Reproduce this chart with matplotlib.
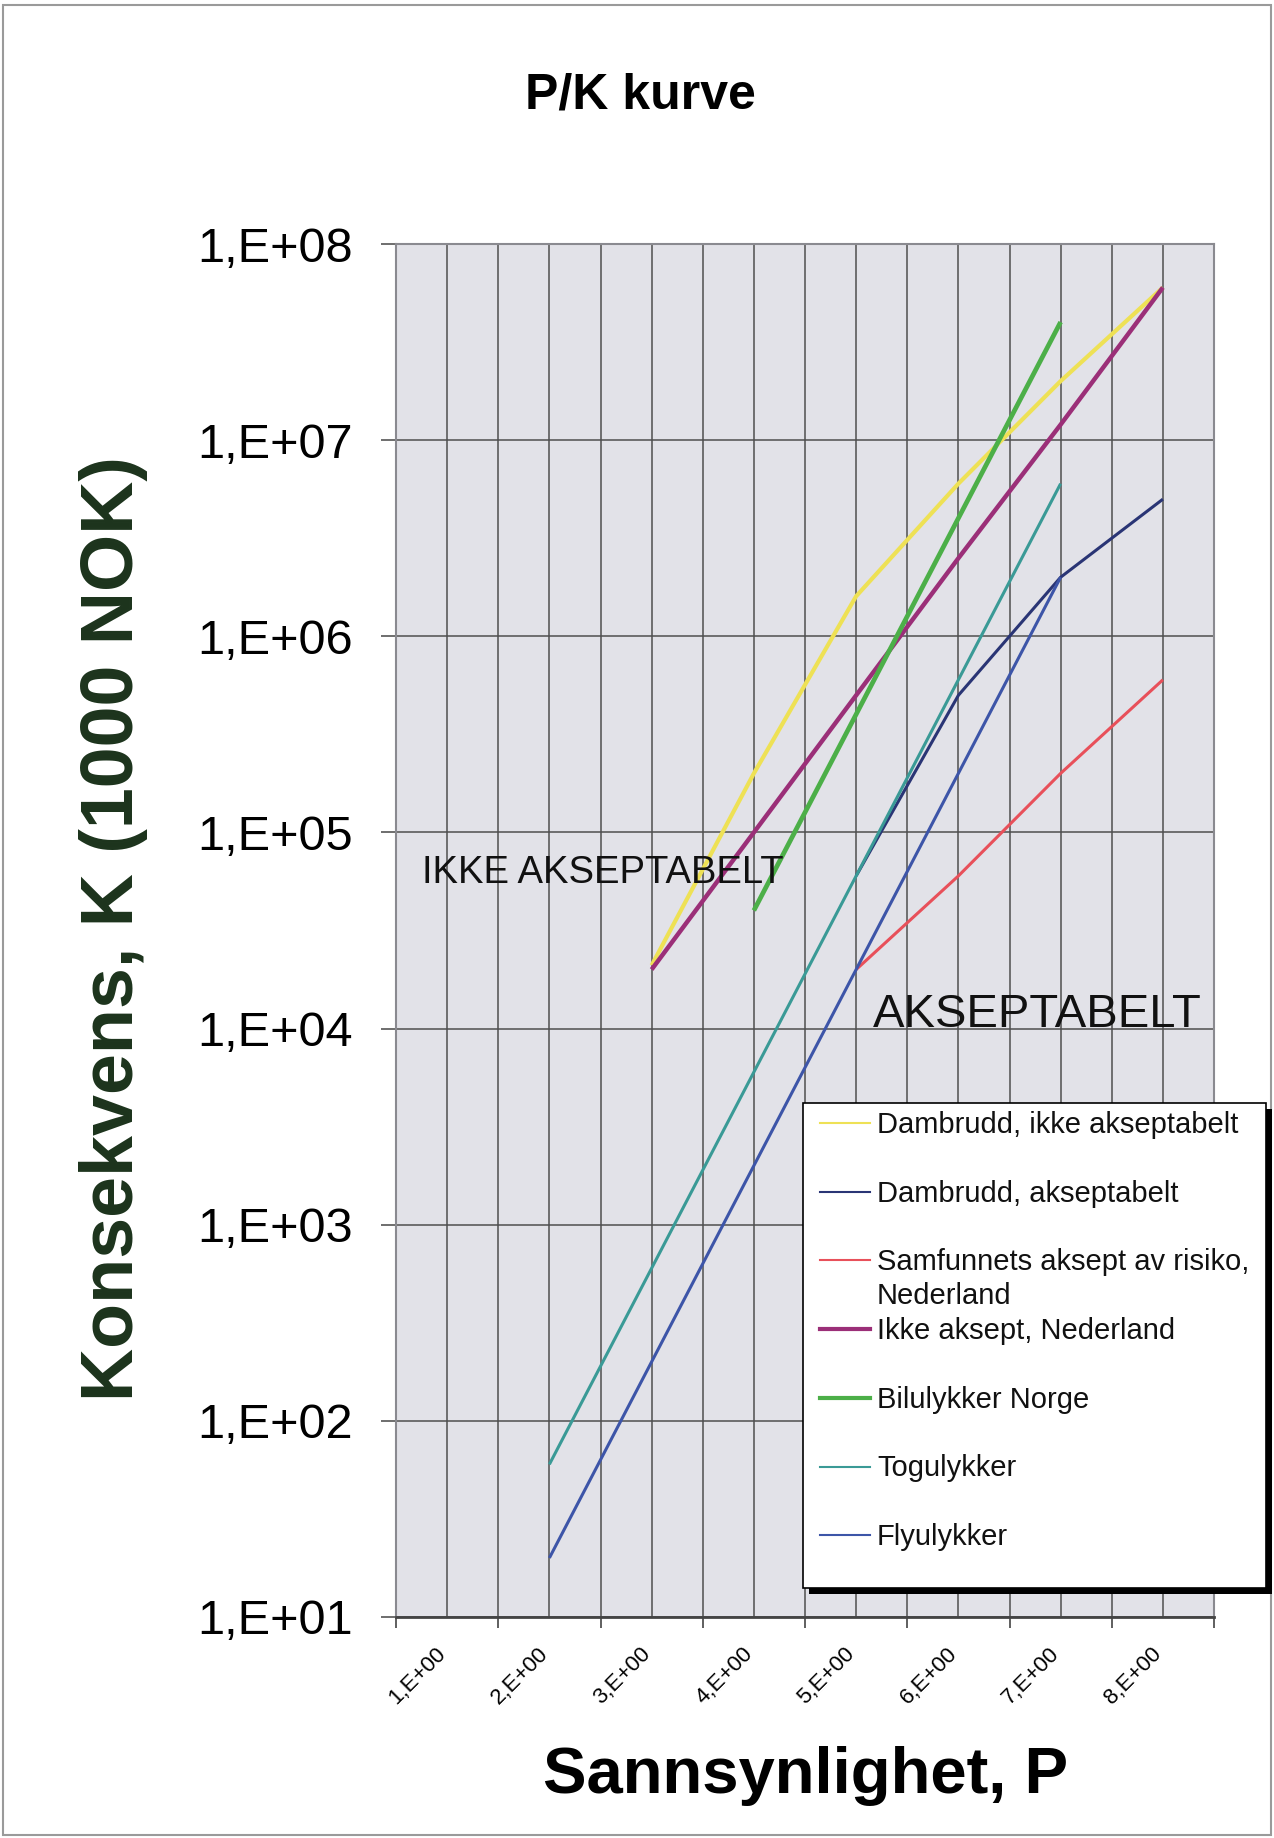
import numpy as np
import matplotlib.pyplot as plt
import matplotlib.transforms as mtransforms
from matplotlib.lines import Line2D
from matplotlib.patches import Rectangle
from matplotlib.ticker import FixedLocator, FuncFormatter, NullFormatter, NullLocator

plt.rcParams['font.family'] = ['Liberation Sans', 'DejaVu Sans']

# Kategorier (sannsynlighetsklasser) og verdier for konsekvens, K (1000 NOK)
kategorier = [1, 2, 3, 4, 5, 6, 7, 8]
x_etiketter = ['1,E+00', '2,E+00', '3,E+00', '4,E+00', '5,E+00', '6,E+00', '7,E+00', '8,E+00']
y_ticks = [1e1, 1e2, 1e3, 1e4, 1e5, 1e6, 1e7, 1e8]

nan = np.nan
dambrudd_ikke = [nan, nan, 2.1e4, 2e5, 1.6e6, 6e6, 2e7, 6e7]
dambrudd_aksept = [nan, nan, nan, nan, 6e4, 5e5, 2e6, 5e6]
samfunn_nl = [nan, nan, nan, nan, 2e4, 6e4, 2e5, 6e5]
ikke_aksept_nl = [nan, nan, 2e4, 1e5, 5e5, 2.5e6, 1.2e7, 6e7]
bilulykker = [nan, nan, nan, 4e4, 4e5, 4e6, 4e7, nan]
togulykker = [nan, 60, 600, 6000, 6e4, 6e5, 6e6, nan]
flyulykker = [nan, 20, 200, 2000, 2e4, 2e5, 2e6, nan]

serier = [
    (dambrudd_ikke, 'Dambrudd, ikke akseptabelt', '#eee155', 3.0, 1.5),
    (dambrudd_aksept, 'Dambrudd, akseptabelt', '#2a3575', 2.2, 1.5),
    (samfunn_nl, 'Samfunnets aksept av risiko,\nNederland', '#e8505a', 2.2, 1.5),
    (ikke_aksept_nl, 'Ikke aksept, Nederland', '#9b2f78', 3.2, 3.0),
    (bilulykker, 'Bilulykker Norge', '#4caf48', 3.4, 3.0),
    (togulykker, 'Togulykker', '#3a9a96', 2.2, 1.5),
    (flyulykker, 'Flyulykker', '#3d55a8', 2.2, 1.5),
]

W, H = 1274, 1838


def fx(px):
    return px / W


def fy(py):
    return 1 - py / H


fig = plt.figure(figsize=(W / 100, H / 100), dpi=100)
fig.patch.set_facecolor('white')

ax = fig.add_axes([fx(396), fy(1617), (1214 - 396) / W, (1617 - 244) / H])
ax.set_facecolor('#e2e2e8')
ax.set_yscale('log')

for verdier, navn, farge, lw, _ in serier:
    ax.plot(kategorier, verdier, color=farge, lw=lw, solid_capstyle='butt', zorder=3)

ax.set_xlim(0.5, 8.5)
ax.set_ylim(1e1, 1e8)

# x-akse: merker mellom kategoriene, etiketter midt i
ax.xaxis.set_major_locator(FixedLocator(np.arange(0.5, 9.0, 1.0)))
ax.xaxis.set_major_formatter(NullFormatter())
ax.xaxis.set_minor_locator(FixedLocator(kategorier))
ax.set_xticklabels(x_etiketter, minor=True)
ax.tick_params(axis='x', which='major', length=8, width=1.2, color='#444444')
ax.tick_params(axis='x', which='minor', length=0, pad=19, labelsize=16)
forskyv = mtransforms.ScaledTranslation(-12 / 100, 0, fig.dpi_scale_trans)
for lbl in ax.get_xticklabels(minor=True):
    lbl.set_rotation(45)
    lbl.set_ha('right')
    lbl.set_rotation_mode('anchor')
    lbl.set_transform(lbl.get_transform() + forskyv)

# y-akse: logaritmisk, 1,E+01 ... 1,E+08
ax.yaxis.set_major_locator(FixedLocator(y_ticks))
ax.yaxis.set_major_formatter(FuncFormatter(lambda v, p: '1,E+%02d' % round(np.log10(v))))
ax.yaxis.set_minor_locator(NullLocator())
ax.tick_params(axis='y', which='major', length=11, width=1.2, color='#555555',
               pad=20, labelsize=35)

ax.grid(True, axis='x', which='both', color='#4f4f4f', lw=1.1, zorder=1)
ax.grid(True, axis='y', which='major', color='#4f4f4f', lw=1.1, zorder=1)
ax.set_axisbelow(True)

for side in ['top', 'left', 'right']:
    ax.spines[side].set_color('#8a8a90')
    ax.spines[side].set_linewidth(1.5)
ax.spines['bottom'].set_color('#444444')
ax.spines['bottom'].set_linewidth(2.0)

ax.text(0.032, 0.5346, 'IKKE AKSEPTABELT', transform=ax.transAxes,
        fontsize=27.5, va='baseline', ha='left', color='#111111', zorder=4)
ax.text(0.583, 0.4297, 'AKSEPTABELT', transform=ax.transAxes,
        fontsize=34, va='baseline', ha='left', color='#111111', zorder=4)

# titler
fig.text(fx(640), fy(108), 'P/K kurve', fontsize=36, fontweight='bold',
         ha='center', va='baseline')
fig.text(fx(806), fy(1793), 'Sannsynlighet, P', fontsize=47, fontweight='bold',
         ha='center', va='baseline')
fig.text(fx(114), fy(929), 'Konsekvens, K (1000 NOK)', fontsize=53, fontweight='bold',
         rotation=90, ha='center', va='center', color='#1c331c')

# tegnforklaring med skygge
fig.add_artist(Rectangle((fx(809), fy(1594)), (1266 - 803) / W, (1588 - 1103) / H,
                         transform=fig.transFigure, facecolor='black',
                         edgecolor='none', zorder=10))
fig.add_artist(Rectangle((fx(803), fy(1588)), (1266 - 803) / W, (1588 - 1103) / H,
                         transform=fig.transFigure, facecolor='white',
                         edgecolor='black', lw=1.2, zorder=11))
linjeavstand = 34
for i, (verdier, navn, farge, lw, lw_leg) in enumerate(serier):
    yc = 1123 + i * 68.7
    fig.add_artist(Line2D([fx(820), fx(870)], [fy(yc), fy(yc)], color=farge,
                          lw=lw_leg, transform=fig.transFigure, zorder=12))
    # grunnlinjen gjelder siste linje i en tekst med flere linjer
    n_linjer = navn.count('\n') + 1
    fig.text(fx(877), fy(yc + 10 + (n_linjer - 1) * linjeavstand), navn,
             fontsize=21, ha='left', va='baseline', linespacing=1.3,
             color='#111111', zorder=12)

# ramme rundt hele figuren
fig.add_artist(Rectangle((fx(3), fy(1835)), (1271 - 3) / W, (1835 - 5) / H,
                         transform=fig.transFigure, fill=False,
                         edgecolor='#9a9a9a', lw=1.5, zorder=0))

fig.savefig('out.png', dpi=100)
